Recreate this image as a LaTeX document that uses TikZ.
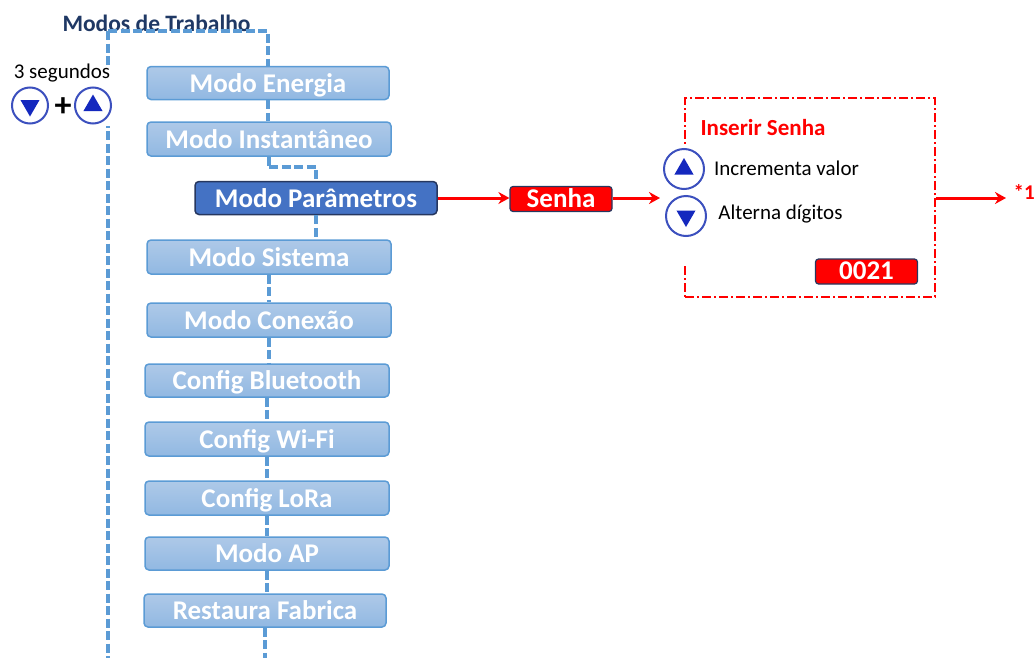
\documentclass[tikz,border=0pt]{standalone}
\usepackage{fontspec}
\usepackage{xcolor}
\usetikzlibrary{shapes.geometric,arrows.meta}
\setmainfont{Carlito}
\definecolor{modoTop}{RGB}{174, 201, 232}
\definecolor{modoBottom}{RGB}{145, 184, 226}
\definecolor{modoEdge}{RGB}{91, 155, 213}
\definecolor{modoActive}{RGB}{68, 114, 196}
\definecolor{darkEdge}{RGB}{38, 55, 95}
\definecolor{titleBlue}{RGB}{31, 56, 100}
\definecolor{btnBlue}{RGB}{20, 40, 190}
\definecolor{ringBlue}{RGB}{60, 80, 190}

\begin{document}
\begin{tikzpicture}[x=1pt, y=1pt, node distance=59pt]
    % Define styles
    \tikzstyle{modebox} = [rectangle, draw=modoEdge, line width=1.5pt, top color=modoTop, bottom color=modoBottom, text=white, font=\fontsize{27}{30}\selectfont\bfseries, text height=18pt, text depth=0pt, minimum width=242pt, minimum height=33pt, inner sep=0pt, rounded corners=4pt]
    \tikzstyle{activebox} = [rectangle, draw=darkEdge, line width=1.5pt, fill=modoActive, text=white, font=\fontsize{27}{30}\selectfont\bfseries, text height=18pt, text depth=0pt, minimum width=242pt, minimum height=33pt, inner sep=0pt, rounded corners=4pt]
    \tikzstyle{redbox} = [rectangle, draw=darkEdge, line width=1.2pt, fill=red, text=white, font=\fontsize{27}{30}\selectfont\bfseries, text height=18pt, text depth=2pt, minimum width=102pt, minimum height=25pt, inner sep=0pt, rounded corners=3pt]
    \tikzstyle{ring} = [circle, draw=ringBlue, line width=2pt, fill=white, minimum size=36pt, inner sep=0pt]
    \tikzstyle{triup} = [regular polygon, regular polygon sides=3, fill=btnBlue, minimum size=22pt, inner sep=0pt]
    \tikzstyle{tridown} = [triup, shape border rotate=180]
    \tikzstyle{link} = [modoEdge, line width=3.2pt, dash pattern=on 9pt off 3.5pt]
    \tikzstyle{arrow} = [red, line width=3pt, -{Stealth[length=11pt,width=12pt]}]
    \tikzstyle{note} = [inner sep=0pt, font=\fontsize{21}{25}\selectfont]
    \tikzstyle{cover} = [rectangle, fill=white, inner sep=0pt, minimum width=8pt]

    \useasboundingbox (0,0) rectangle (1034,-659);

    % Side line and top line
    \coordinate (sideend) at (108,-658);
    \coordinate (sidetop) at (108,-31);
    \coordinate (restend) at (265,-658);
    \draw [link] (sidetop) -- (sideend);
    \node [cover, minimum height=58pt] (sidegap) at (108,-97) {};

    % Title
    \node [inner sep=0pt, text=titleBlue, font=\fontsize{23.5}{27}\selectfont\bfseries] (title) at (156.5,-23) {Modos de Trabalho};

    % Mode column
    \node [modebox] (energia) at (268,-83) {Modo Energia};
    \node [modebox, below of=energia, xshift=1pt, yshift=3pt, minimum height=34pt, minimum width=244pt] (instant) {Modo Instant\^aneo};
    \node [activebox, below of=instant, xshift=47pt] (param) {Modo Par\^ametros};
    \node [modebox, below of=param, xshift=-47pt, minimum height=34pt, minimum width=244pt] (sistema) {Modo Sistema};
    \node [modebox, below of=sistema, yshift=-4pt, minimum height=34pt, minimum width=244pt] (conexao) {Modo Conex\~ao};
    \node [modebox, below of=conexao, xshift=-2pt, yshift=-1.5pt, minimum width=244pt] (bluetooth) {Config Bluetooth};
    \node [modebox, below of=bluetooth, yshift=0.5pt, minimum height=34pt, minimum width=244pt] (wifi) {Config Wi-Fi};
    \node [modebox, below of=wifi, minimum height=34pt, minimum width=244pt] (lora) {Config LoRa};
    \node [modebox, below of=lora, yshift=3.5pt, minimum width=244pt] (ap) {Modo AP};
    \node [modebox, below of=ap, xshift=-2pt, yshift=2pt] (restaura) {Restaura Fabrica};

    % Mode links
    \draw [link] (sidetop) -| (energia.north);
    \draw [link] (energia.south) -- (energia.south |- instant.north);
    \draw [link] (instant.south) |- (268,-167) -| (param.north);
    \draw [link] (param.south) -- (param.south |- sistema.north);
    \draw [link] (sistema.south) -- (sistema.south |- conexao.north);
    \draw [link] (conexao.south) -- (conexao.south |- bluetooth.north);
    \draw [link] (bluetooth.south) -- (bluetooth.south |- wifi.north);
    \draw [link] (wifi.south) -- (lora.north);
    \draw [link] (lora.south) -- (lora.south |- ap.north);
    \draw [link] (ap.south) -- (ap.south |- restaura.north);
    \draw [link] (restaura.south) -- (restend);

    % Key combination
    \node [note] (tempo) at (62,-73) {3 segundos};
    \node [ring] (downkey) at (30,-105.5) {};
    \node [tridown] (downtri) at (downkey) {};
    \node [ring] (upkey) at (93,-105.5) {};
    \node [triup] (uptri) at (upkey) {};
    \node [inner sep=0pt, font=\fontsize{34}{34}\selectfont\bfseries] (plus) at (63,-107) {+};

    % Password panel
    \node [redbox] (senha) at (561,-199) {Senha};
    \node [rectangle, draw=red, line width=1.6pt, dash pattern=on 9pt off 3pt on 2pt off 3pt, minimum width=250pt, minimum height=199pt, inner sep=0pt] (panel) at (810,-197.5) {};
    \node [cover, minimum height=120pt] (panelgap) at (685,-205) {};
    \node [inner sep=0pt, text=red, font=\fontsize{23}{27}\selectfont\bfseries] (inserir) at (763,-128) {Inserir Senha};
    \node [ring, minimum size=40pt] (upval) at (684,-169) {};
    \node [triup] (upvaltri) at (upval) {};
    \node [ring, minimum size=40pt] (downval) at (686,-216) {};
    \node [tridown] (downvaltri) at (downval) {};
    \node [note] (incr) at (786.5,-168) {Incrementa valor};
    \node [note] (alterna) at (780.5,-214) {Alterna d\'igitos};
    \node [redbox] (code) at (866.5,-271.5) {0021};
    \node [inner sep=0pt, text=red, font=\fontsize{21}{25}\selectfont\bfseries, anchor=west] (next) at (1013.5,-192) {*1};

    % Arrows
    \coordinate (senhaend) at (660,-198);
    \coordinate (nextend) at (1006,-198);
    \draw [arrow] (param.east) -- (senha.west |- param.east);
    \draw [arrow] (senha.east |- senhaend) -- (senhaend);
    \draw [arrow] (panel.east |- nextend) -- (nextend);
\end{tikzpicture}
\end{document}
